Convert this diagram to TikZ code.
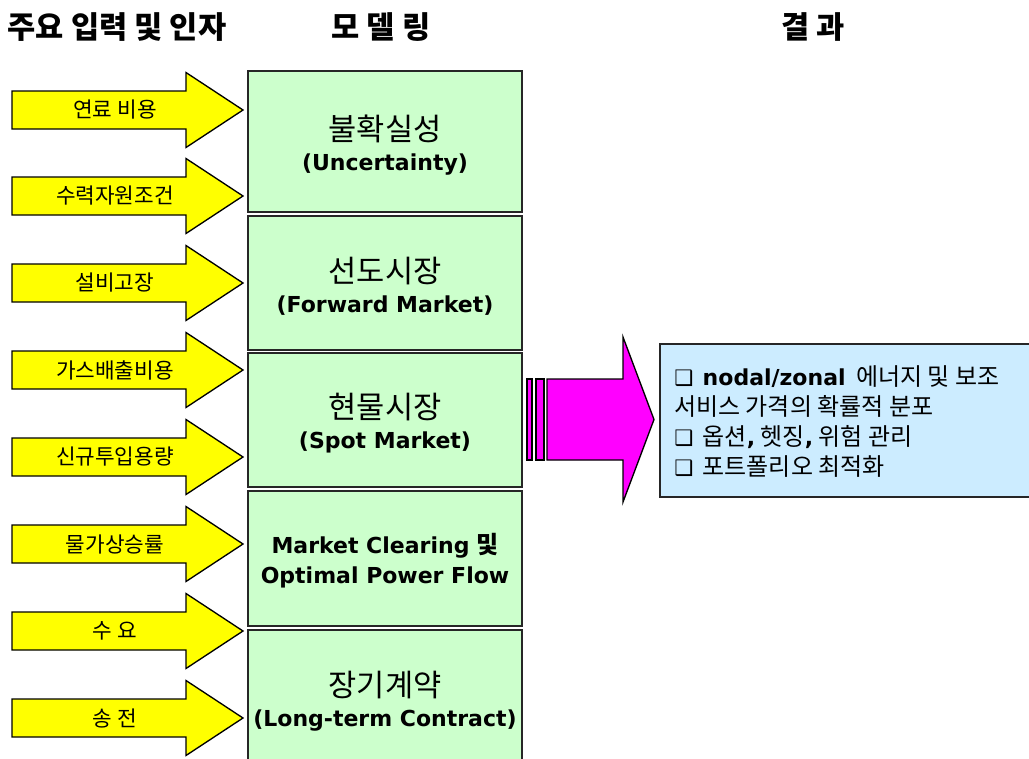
\documentclass[tikz,border=0pt]{standalone}
\usepackage{fontspec}
\setmainfont{DejaVu Sans}
\newfontfamily\kr{Noto Sans CJK KR}
\definecolor{boxgreen}{HTML}{CCFFCC}
\definecolor{boxblue}{HTML}{CCECFF}
\definecolor{arrowyellow}{HTML}{FFFF00}
\definecolor{arrowmag}{HTML}{FF00FF}
\tikzset{
  yarrow/.style={draw=black, line width=1pt, fill=arrowyellow, line join=miter},
  marrow/.style={draw=black, line width=1pt, fill=arrowmag, line join=miter},
  ylabel/.style={font=\kr\fontsize{16pt}{18pt}\selectfont, inner sep=0pt},
  header/.style={font=\kr\bfseries\fontsize{23pt}{26pt}\selectfont, inner sep=0pt},
  greenbox/.style={draw=black!85, line width=1.1pt, fill=boxgreen},
  boxtext/.style={inner sep=0pt, align=center, font=\kr\fontsize{23pt}{22.5pt}\selectfont},
  bluebox/.style={draw=black!85, line width=1.1pt, fill=boxblue},
}
\newcommand\EN[1]{{\fontspec{DejaVu Sans}\bfseries\fontsize{16.5pt}{22.5pt}\selectfont #1}}
\newcommand\CB{{\fontspec{DejaVu Sans}\fontsize{16pt}{22.5pt}\selectfont ❑}\hspace{7pt}}
\newcommand\inarrow[3]{%
  \draw[yarrow] (12,{#1-19}) -- (186,{#1-19}) -- (186,{#1-37.5}) -- (243,#1)
     -- (186,{#1+37.5}) -- (186,{#1+19}) -- (12,{#1+19}) -- cycle;
  \node[ylabel] (#2) at (115,#1) {#3};
}
\begin{document}
\begin{tikzpicture}[x=0.75pt, y=-0.75pt]
\useasboundingbox (0,0) rectangle (1029,758);
\clip (0,0) rectangle (1029,758);
\fill[white] (0,0) rectangle (1029,758);

% headers
\node[header] (h1) at (117,27) {주요 입력 및 인자};
\node[header] (h2) at (381,27) {모 델 링};
\node[header] (h3) at (813,27) {결 과};

% input arrows
\inarrow{110}{in1}{연료 비용}
\inarrow{196}{in2}{수력자원조건}
\inarrow{283}{in3}{설비고장}
\inarrow{370}{in4}{가스배출비용}
\inarrow{457}{in5}{신규투입용량}
\inarrow{544}{in6}{물가상승률}
\inarrow{631}{in7}{수 요}
\inarrow{718}{in8}{송 전}

% model boxes
\path[greenbox] (248,71) rectangle (522,212);
\node[boxtext] (m1) at (385,145) {불확실성\\\EN{(Uncertainty)}};
\path[greenbox] (248,216) rectangle (522,350);
\node[boxtext] (m2) at (385,286) {선도시장\\\EN{(Forward Market)}};
\path[greenbox] (248,353) rectangle (522,487);
\node[boxtext] (m3) at (385,423) {현물시장\\\EN{(Spot Market)}};
\path[greenbox] (248,491) rectangle (522,626);
\node[boxtext] (m4) at (385,561) {\EN{Market Clearing} {\kr\bfseries\fontsize{18pt}{22.5pt}\selectfont 및}\\\EN{Optimal Power Flow}};
\path[greenbox] (248,630) rectangle (522,780);
\node[boxtext] (m5) at (385,701) {장기계약\\\EN{(Long-term Contract)}};

% output arrow
\path[marrow] (527,379) rectangle (532,460);
\path[marrow] (536,379) rectangle (544,460);
\draw[marrow] (547,379) -- (623,379) -- (623,337) -- (654,419.5) -- (623,502) -- (623,460) -- (547,460) -- cycle;

% result box
\path[bluebox] (660,344) rectangle (1045,497);
\node[anchor=west, inner sep=0pt, align=left, font=\kr\fontsize{18pt}{22.5pt}\selectfont] (res) at (674,422)
 {\CB\EN{nodal/zonal}\hspace{4pt} 에너지 및 보조\\
  서비스 가격의 확률적 분포\\
  \CB 옵션\EN{,} 헷징\EN{,} 위험 관리\\
  \CB 포트폴리오 최적화};
\end{tikzpicture}
\end{document}
